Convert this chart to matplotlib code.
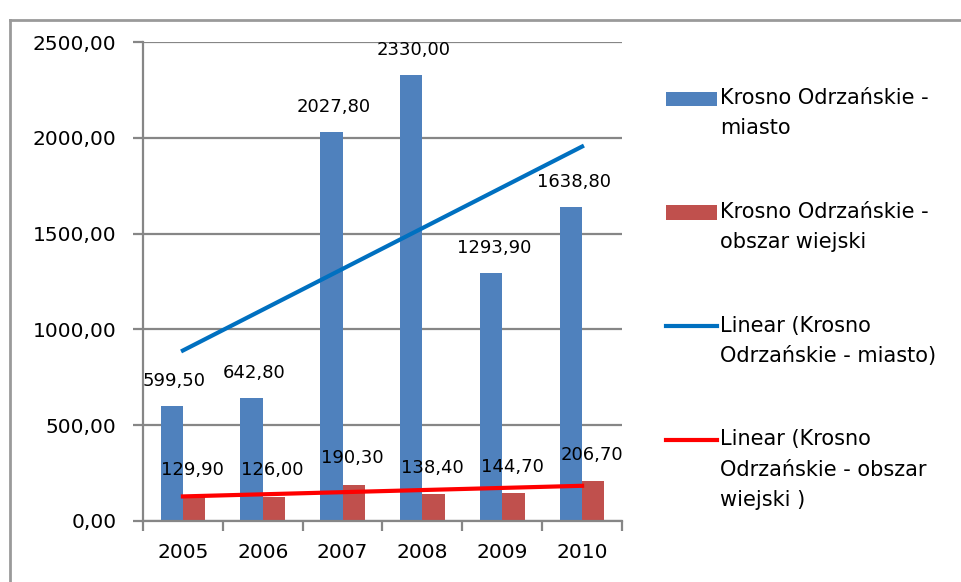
import numpy as np
import matplotlib
matplotlib.use("Agg")
import matplotlib.pyplot as plt
from matplotlib.lines import Line2D
from matplotlib import transforms as mtransforms
from matplotlib.legend_handler import HandlerPatch, HandlerLine2D

years = ["2005", "2006", "2007", "2008", "2009", "2010"]
miasto = [599.5, 642.8, 2027.8, 2330.0, 1293.9, 1638.8]
wiejski = [129.9, 126.0, 190.3, 138.4, 144.7, 206.7]
yticks = [0, 500, 1000, 1500, 2000, 2500]
labels = ["Krosno Odrzańskie -\nmiasto",
          "Krosno Odrzańskie -\nobszar wiejski",
          "Linear (Krosno\nOdrzańskie - miasto)",
          "Linear (Krosno\nOdrzańskie - obszar\nwiejski )"]

plt.rcParams['font.family'] = ['DejaVu Sans']

def fmt(v):
    return f"{v:.2f}".replace(".", ",")

BLUE = "#4F81BD"
RED = "#C0504D"
GRID = "#868686"
LFS = 15
LSP = 1.64
PITCH = 21.6  # points between legend text lines


class ShiftPatch(HandlerPatch):
    def __init__(self, shift, **kw):
        super().__init__(**kw)
        self.shift = shift

    def create_artists(self, legend, orig_handle, xdescent, ydescent, width,
                       height, fontsize, trans):
        t = mtransforms.Affine2D().translate(0, self.shift) + trans
        return super().create_artists(legend, orig_handle, xdescent, ydescent,
                                      width, height, fontsize, t)


class ShiftLine(HandlerLine2D):
    def __init__(self, shift, **kw):
        super().__init__(**kw)
        self.shift = shift

    def create_artists(self, legend, orig_handle, xdescent, ydescent, width,
                       height, fontsize, trans):
        t = mtransforms.Affine2D().translate(0, self.shift) + trans
        return super().create_artists(legend, orig_handle, xdescent, ydescent,
                                      width, height, fontsize, t)


fig = plt.figure(figsize=(9.62, 5.82), dpi=100)
ax = fig.add_axes([143/962, 1-521/582, (622-143)/962, (521-42)/582])

x = np.arange(len(years))
w = 0.28
b1 = ax.bar(x - w/2, miasto, w, color=BLUE, zorder=2)
b2 = ax.bar(x + w/2, wiejski, w, color=RED, zorder=2)

p1 = np.polyfit(x, miasto, 1)
p2 = np.polyfit(x, wiejski, 1)
l1, = ax.plot(x, np.polyval(p1, x), color="#0070C0", lw=3.0, zorder=3)
l2, = ax.plot(x, np.polyval(p2, x), color="#FF0000", lw=3.0, zorder=3)

for xi, v in zip(x - w/2, miasto):
    ax.annotate(fmt(v), (xi, v), xytext=(2, 18), textcoords="offset points",
                ha="center", va="center", fontsize=13, zorder=4)
for xi, v in zip(x + w/2, wiejski):
    ax.annotate(fmt(v), (xi, v), xytext=(-1, 19), textcoords="offset points",
                ha="center", va="center", fontsize=13, zorder=4)

ax.set_ylim(0, 2500)
ax.set_xlim(-0.5, 5.5)
ax.set_yticks(yticks)
ax.set_yticklabels([fmt(v) for v in yticks], fontsize=14.5)
ax.yaxis.grid(True, color=GRID, lw=1.6, zorder=0)
ax.set_axisbelow(True)
ax.set_xticks(x)
ax.set_xticklabels(years, fontsize=14.5)
ax.set_xticks(np.arange(-0.5, 6, 1), minor=True)
ax.tick_params(axis="x", which="major", length=0, pad=16)
ax.tick_params(axis="x", which="minor", length=7, width=1.6, color=GRID)
ax.tick_params(axis="y", length=7, width=1.6, color=GRID, pad=12)
for s in ["top", "right"]:
    ax.spines[s].set_visible(False)
for s in ["left", "bottom"]:
    ax.spines[s].set_color(GRID)
    ax.spines[s].set_linewidth(1.6)

h1 = b1.patches[0]
h2 = b2.patches[0]
hmap = {h1: ShiftPatch(PITCH / 2), h2: ShiftPatch(PITCH / 2),
        l1: ShiftLine(PITCH / 2), l2: ShiftLine(PITCH)}
leg = fig.legend([h1, h2, l1, l2], labels, loc="upper left",
                 bbox_to_anchor=(666/962, 1-88/582), frameon=False,
                 fontsize=LFS, handlelength=2.45, handleheight=0.7,
                 labelspacing=3.05, handletextpad=0.15, handler_map=hmap,
                 borderaxespad=0, borderpad=0)
for t in leg.get_texts():
    t.set_linespacing(LSP)

fig.add_artist(Line2D([10/962, 1], [1-20/582, 1-20/582], color="#9a9a9a", lw=2,
                      transform=fig.transFigure))
fig.add_artist(Line2D([10/962, 10/962], [0, 1-20/582], color="#9a9a9a", lw=2,
                      transform=fig.transFigure))

fig.savefig("out.png", dpi=100)
